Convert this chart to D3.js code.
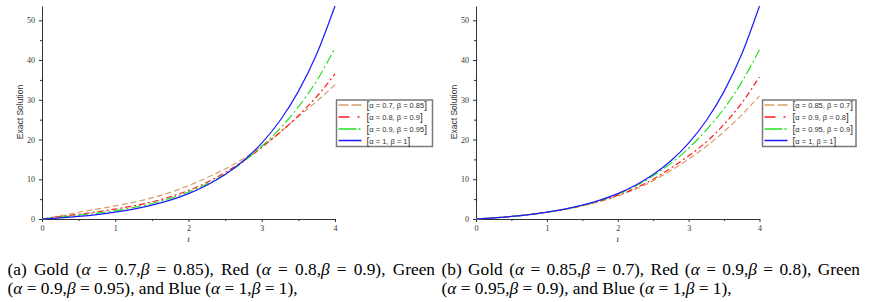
<!DOCTYPE html>
<html><head><meta charset="utf-8">
<script src="https://cdn.jsdelivr.net/npm/d3@7"></script>
<style>html,body{margin:0;padding:0;background:#fff;}svg{display:block;}</style>
</head><body>
<svg id="c" width="869" height="302"></svg>
<script>
// ---- data ----
const tValues = [0,0.25,0.5,0.75,1,1.25,1.5,1.75,2,2.25,2.5,2.75,3,3.25,3.5,3.75,4];
const xTicks = [0,1,2,3,4];
const yTicks = [0,10,20,30,40,50];

// panel (a)
const goldA  = [0,0.8,1.7,2.5,3.3,4.2,5.3,6.7,8.4,10.4,12.6,15.2,18.3,21.8,25.8,29.6,33.8];
const redA   = [0,0.6,1.2,1.8,2.5,3.3,4.3,5.6,7.2,9.2,11.7,14.6,18.0,21.8,26.0,30.8,36.5];
const greenA = [0,0.45,0.95,1.5,2.1,2.9,3.9,5.2,6.8,8.8,11.3,14.4,18.3,22.8,28.2,34.8,43.0];
const blueA  = [0,0.28,0.65,1.12,1.72,2.49,3.48,4.75,6.39,8.49,11.18,14.64,19.09,24.79,32.12,41.52,53.6];
const legendA = ["α = 0.7, β = 0.85","α = 0.8, β = 0.9","α = 0.9, β = 0.95","α = 1, β = 1"];

// panel (b)
const goldB  = [0,0.3,0.65,1.1,1.7,2.4,3.3,4.4,5.8,7.5,9.6,12.2,15.1,18.3,22.0,26.2,31.0];
const redB   = [0,0.3,0.65,1.1,1.7,2.45,3.35,4.55,6.0,7.8,10.0,12.8,15.9,19.4,23.8,29.2,35.8];
const greenB = [0,0.28,0.65,1.12,1.72,2.47,3.42,4.65,6.3,8.3,10.9,14.0,17.8,22.4,27.8,34.5,42.6];
const blueB  = [0,0.28,0.65,1.12,1.72,2.49,3.48,4.75,6.39,8.49,11.18,14.64,19.09,24.79,32.12,41.52,53.6];
const legendB = ["α = 0.85, β = 0.7","α = 0.9, β = 0.8","α = 0.95, β = 0.9","α = 1, β = 1"];

const captionA1 = ["(a)","Gold","(α","=","0.7,β","=","0.85),","Red","(α","=","0.8,β","=","0.9),","Green"];
const captionA2 = "(α = 0.9,β = 0.95), and Blue (α = 1,β = 1),";
const captionB1 = ["(b)","Gold","(α","=","0.85,β","=","0.7),","Red","(α","=","0.9,β","=","0.8),","Green"];
const captionB2 = "(α = 0.95,β = 0.9), and Blue (α = 1,β = 1),";

// ---- styles ----
const styles = [
  {color:"#d7a06a", dash:"6,3",        legendDash:"10,3"},
  {color:"#ff1a1a", dash:"6,3,2,3",    legendDash:"11,8,2,4"},
  {color:"#22e022", dash:"10,3,2,3",   legendDash:"18,2,2,4"},
  {color:"#1a1aff", dash:null,         legendDash:null}
];
const axisColor = "#333";
const svg = d3.select("#c");

function panel(opt){
  const x = d3.scaleLinear().domain([0,4]).range([opt.x0, opt.x1]);
  const y = d3.scaleLinear().domain([0,53.6]).range([219, 6]);
  const g = svg.append("g");

  // minor ticks
  g.append("g").attr("transform",`translate(0,219)`)
    .call(d3.axisBottom(x).tickValues(d3.range(0.5,4,1)).tickSize(2).tickFormat(""))
    .call(s=>s.select(".domain").remove());
  g.append("g").attr("transform",`translate(${opt.x0},0)`)
    .call(d3.axisLeft(y).tickValues(d3.range(5,55,10)).tickSize(2).tickFormat(""))
    .call(s=>s.select(".domain").remove());

  const xa = g.append("g").attr("transform",`translate(0,219)`)
    .call(d3.axisBottom(x).tickValues(xTicks).tickSize(3).tickSizeOuter(0).tickPadding(3).tickFormat(d3.format("d")));
  const ya = g.append("g").attr("transform",`translate(${opt.x0},0)`)
    .call(d3.axisLeft(y).tickValues(yTicks).tickSize(3).tickSizeOuter(0).tickPadding(4).tickFormat(d3.format("d")));
  g.selectAll(".domain, .tick line").attr("stroke",axisColor).attr("stroke-width",1);
  g.selectAll(".tick text").attr("font-family","Liberation Serif").attr("font-size",8).attr("fill",axisColor);

  // axis titles
  g.append("text").attr("x",(opt.x0+opt.x1)/2).attr("y",242).attr("text-anchor","middle")
    .attr("font-family","Liberation Serif").attr("font-style","italic").attr("font-size",9).attr("fill",axisColor).text("t");
  g.append("text").attr("transform",`translate(${opt.x0-19},112) rotate(-90)`).attr("text-anchor","middle")
    .attr("font-family","Liberation Sans").attr("font-size",8.5).attr("fill","#333").text("Exact Solution");

  // curves
  const line = d3.line().x((d,i)=>x(tValues[i])).y(d=>y(d)).curve(d3.curveMonotoneX);
  opt.series.forEach((s,k)=>{
    g.append("path").datum(s).attr("d",line).attr("fill","none")
      .attr("stroke",styles[k].color).attr("stroke-width",1.2)
      .attr("stroke-dasharray",styles[k].dash);
  });

  // legend
  const lg = g.append("g").attr("transform",`translate(${opt.lx},100)`);
  lg.append("rect").attr("x",0).attr("y",0).attr("width",opt.lw).attr("height",46.5)
    .attr("fill","#fff").attr("stroke","#7a7a7a").attr("stroke-width",1.5);
  const rowsY = [5,17,29,40.5];
  opt.labels.forEach((lab,k)=>{
    lg.append("line").attr("x1",2).attr("x2",25).attr("y1",rowsY[k]).attr("y2",rowsY[k])
      .attr("stroke",styles[k].color).attr("stroke-width",1.5)
      .attr("stroke-dasharray",styles[k].legendDash);
    const t = lg.append("text").attr("x",30).attr("y",rowsY[k]+3)
      .attr("font-family","Liberation Sans").attr("font-size",7.5).attr("fill","#333");
    t.append("tspan").attr("font-size",10).attr("dy",1).text("[");
    t.append("tspan").attr("dy",-1).text(lab);
    t.append("tspan").attr("font-size",10).attr("dy",1).text("]");
  });
}

panel({x0:42, x1:335, series:[goldA,redA,greenA,blueA], labels:legendA, lx:336.5, lw:96});
panel({x0:476, x1:759.5, series:[goldB,redB,greenB,blueB], labels:legendB, lx:762.5, lw:93.5});

// ---- captions ----
const capFont = "Liberation Serif";
function addRich(textSel, str){
  for(const ch of str){
    const sp = textSel.append("tspan").text(ch);
    if(ch==="α"||ch==="β") sp.attr("font-style","italic");
  }
}
// determine font size so line 2 spans ~290px
const probe = svg.append("text").attr("font-family",capFont).attr("font-size",100);
addRich(probe, captionA2);
const w100 = probe.node().getComputedTextLength();
probe.remove();
const fs = 100*290/w100;

function caption(tokens, line2, xl, xr){
  const widths = tokens.map(tok=>{
    const p = svg.append("text").attr("font-family",capFont).attr("font-size",fs);
    addRich(p, tok);
    const w = p.node().getComputedTextLength(); p.remove(); return w;
  });
  const total = d3.sum(widths);
  const gap = (xr - xl - total)/(tokens.length-1);
  let cx = xl;
  tokens.forEach((tok,i)=>{
    const t = svg.append("text").attr("x",cx).attr("y",274.5)
      .attr("font-family",capFont).attr("font-size",fs).attr("fill","#000");
    addRich(t, tok);
    cx += widths[i] + gap;
  });
  const t2 = svg.append("text").attr("x",xl).attr("y",293.5)
    .attr("font-family",capFont).attr("font-size",fs).attr("fill","#000").attr("xml:space","preserve");
  addRich(t2, line2);
}
caption(captionA1, captionA2, 7.5, 435);
caption(captionB1, captionB2, 441.5, 860);
</script>
</body></html>
